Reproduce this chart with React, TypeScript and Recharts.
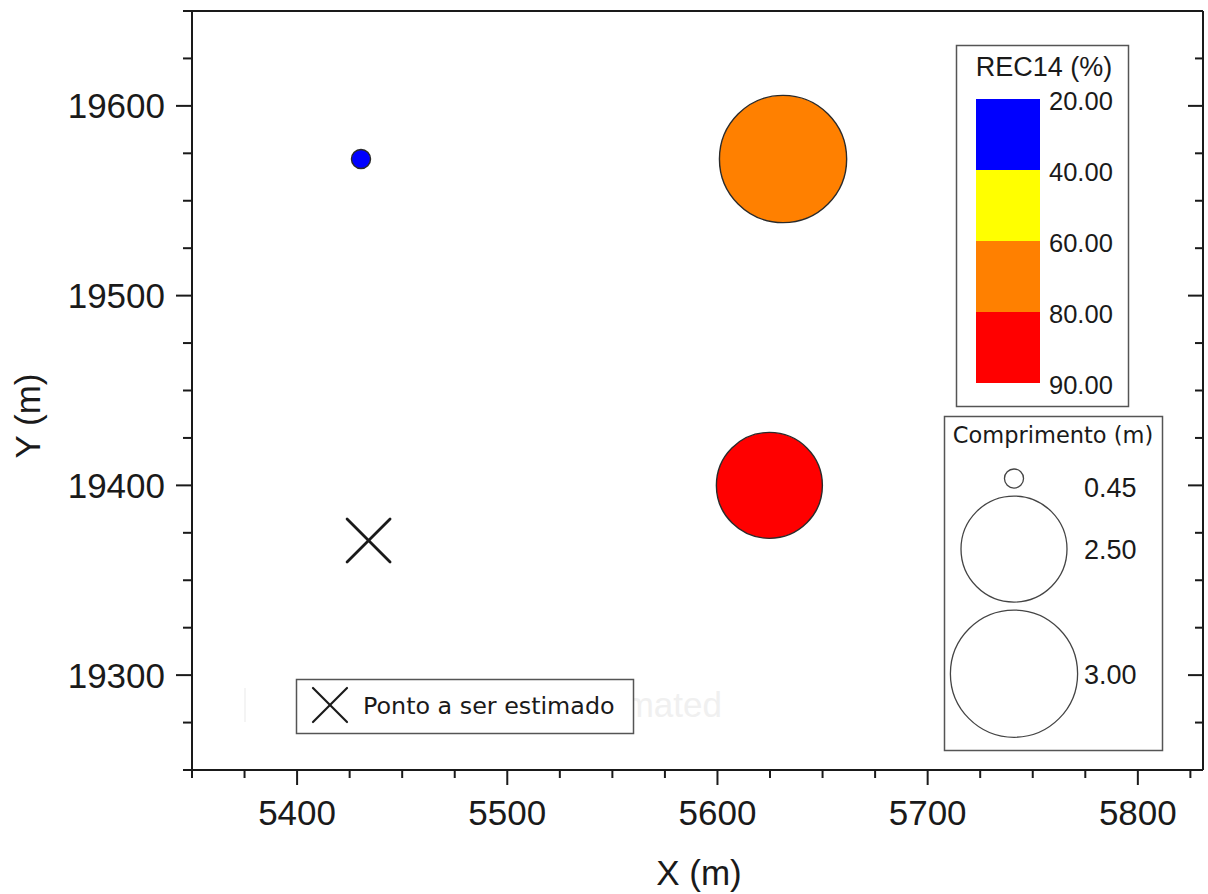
import React from "react";
import { ScatterChart, Scatter, XAxis, YAxis } from "recharts";

// sample positions (m), drilled length (m) and recovery REC14 (%)
const SAMPLE_X = [5430.4, 5631.2, 5624.7];
const SAMPLE_Y = [19572, 19572, 19400];
const SAMPLE_LEN = [0.45, 3.0, 2.5];
const SAMPLE_REC = [30, 70, 85];

// point to be estimated
const TARGET_X = [5434];
const TARGET_Y = [19371];

// REC14 classes and size key
const REC_BREAKS = [20, 40, 60, 80, 90];
const REC_COLORS = ["#0000ff", "#ffff00", "#ff8000", "#ff0000"];
const LEN_KEYS = [0.45, 2.5, 3.0];

const X_DOMAIN = [5350, 5831];
const Y_DOMAIN = [19250, 19650];
const X_MAJOR = [5400, 5500, 5600, 5700, 5800];
const Y_MAJOR = [19300, 19400, 19500, 19600];
const X_TICKS = [
  5350, 5375, 5400, 5425, 5450, 5475, 5500, 5525, 5550, 5575,
  5600, 5625, 5650, 5675, 5700, 5725, 5750, 5775, 5800, 5825,
];
const Y_TICKS = [
  19250, 19275, 19300, 19325, 19350, 19375, 19400, 19425, 19450,
  19475, 19500, 19525, 19550, 19575, 19600, 19625, 19650,
];

const W = 1208;
const H = 894;
const INK = "#1a1a1a";
const ARIAL = "'Liberation Sans', Arial, sans-serif";
const VERDANA = "'DejaVu Sans', Verdana, sans-serif";
const R_PER_M = 21.2; // bubble radius in px per metre of length
const MAJOR_LEN = 15;
const MINOR_LEN = 8;

const samples = SAMPLE_X.map((x, i) => ({ x, y: SAMPLE_Y[i], len: SAMPLE_LEN[i], rec: SAMPLE_REC[i] }));
const targets = TARGET_X.map((x, i) => ({ x, y: TARGET_Y[i] }));

function recColor(v: number) {
  for (let i = 0; i < REC_COLORS.length; i++) {
    if (v >= REC_BREAKS[i] && v < REC_BREAKS[i + 1]) return REC_COLORS[i];
  }
  return REC_COLORS[REC_COLORS.length - 1];
}

const tickText = { fontFamily: ARIAL, fontSize: 35, fill: INK };

const BottomTick = (p: any) => {
  const { x, y, payload } = p;
  const major = X_MAJOR.includes(payload.value);
  return (
    <g>
      <line x1={x} x2={x} y1={y} y2={y + (major ? MAJOR_LEN : MINOR_LEN)} stroke={INK} strokeWidth={2} />
      {major && (
        <text x={x} y={y + 55} textAnchor="middle" style={tickText}>
          {payload.value}
        </text>
      )}
    </g>
  );
};

const LeftTick = (p: any) => {
  const { x, y, payload } = p;
  const major = Y_MAJOR.includes(payload.value);
  return (
    <g>
      <line x1={x - (major ? MAJOR_LEN + 1 : MINOR_LEN + 1)} x2={x} y1={y} y2={y} stroke={INK} strokeWidth={2} />
      {major && (
        <text x={x - 27} y={y + 12.5} textAnchor="end" style={tickText}>
          {payload.value}
        </text>
      )}
    </g>
  );
};

// inward ticks on the top and right frame
const TopTick = (p: any) => {
  const { x, y, payload } = p;
  const major = X_MAJOR.includes(payload.value);
  return <line x1={x} x2={x} y1={y} y2={y + (major ? MAJOR_LEN : MINOR_LEN)} stroke={INK} strokeWidth={2} />;
};

const RightTick = (p: any) => {
  const { x, y, payload } = p;
  const major = Y_MAJOR.includes(payload.value);
  return <line x1={x - (major ? MAJOR_LEN : MINOR_LEN)} x2={x} y1={y} y2={y} stroke={INK} strokeWidth={2} />;
};

const Bubble = (p: any) => {
  const { cx, cy, payload } = p;
  return (
    <circle cx={cx} cy={cy} r={payload.len * R_PER_M} fill={recColor(payload.rec)} stroke="#2a2a2a" strokeWidth={1.4} />
  );
};

const Cross = ({ cx, cy, half = 21.5, width = 2.8 }: any) => (
  <g stroke={INK} strokeWidth={width} strokeLinecap="round">
    <line x1={cx - half} y1={cy - half} x2={cx + half} y2={cy + half} />
    <line x1={cx - half} y1={cy + half} x2={cx + half} y2={cy - half} />
  </g>
);

function Legends() {
  // colour scale box
  const barX = 976;
  const barY = 99;
  const bandH = 71;
  // size key: circles stacked with an 8px gap
  let top = 469;
  const sizeRows = LEN_KEYS.map((v) => {
    const r = v * R_PER_M;
    const cy = top + r;
    const labelY = Math.max(cy, top + 18);
    top = cy + r + 8;
    return { v, r, cy, labelY };
  });

  return (
    <svg width={W} height={H} style={{ position: "absolute", left: 0, top: 0, pointerEvents: "none" }}>
      {/* axis titles */}
      <text x={699} y={885} textAnchor="middle" style={tickText}>X (m)</text>
      <text transform="translate(40 416) rotate(-90)" textAnchor="middle" style={tickText}>
        Y (m)
      </text>

      {/* faded caption peeking out from behind the marker key */}
      <line x1={245} x2={245} y1={688} y2={722} stroke="#f0f0f0" strokeWidth={1.5} />
      <text x={722} y={717} textAnchor="end" style={{ fontFamily: ARIAL, fontSize: 35, fill: "#f0f0f0" }}>
        mated
      </text>

      {/* marker key */}
      <rect x={296.5} y={679.5} width={337} height={54} fill="#fff" stroke="#555" strokeWidth={1.5} />
      <Cross cx={330} cy={705} half={17} width={2.2} />
      <text x={363} y={714} style={{ fontFamily: VERDANA, fontSize: 23.8, fill: INK }}>
        Ponto a ser estimado
      </text>

      {/* REC14 colour key */}
      <rect x={956.5} y={45.5} width={172} height={361} fill="#fff" stroke="#555" strokeWidth={1.5} />
      <text x={1044} y={76} textAnchor="middle" style={{ fontFamily: ARIAL, fontSize: 27, fill: INK }}>
        REC14 (%)
      </text>
      {REC_COLORS.map((c, i) => (
        <rect key={c} x={barX} y={barY + i * bandH} width={64} height={bandH} fill={c} />
      ))}
      {REC_BREAKS.map((b, i) => (
        <text key={b} x={1049} y={barY + i * bandH + 11} style={{ fontFamily: ARIAL, fontSize: 25.5, fill: INK }}>
          {b.toFixed(2)}
        </text>
      ))}

      {/* length key */}
      <rect x={944.5} y={416.5} width={218} height={334} fill="#fff" stroke="#555" strokeWidth={1.5} />
      <text x={1053} y={443} textAnchor="middle" style={{ fontFamily: VERDANA, fontSize: 22.5, fill: INK }}>
        Comprimento (m)
      </text>
      {sizeRows.map((s) => (
        <g key={s.v}>
          <circle cx={1014} cy={s.cy} r={s.r} fill="#fff" stroke="#444" strokeWidth={1.3} />
          <text x={1084} y={s.labelY + 10} style={{ fontFamily: ARIAL, fontSize: 27, fill: INK }}>
            {s.v.toFixed(2)}
          </text>
        </g>
      ))}
    </svg>
  );
}

export default function App() {
  const axisLine = { stroke: INK, strokeWidth: 2 };
  return (
    <div style={{ position: "absolute", left: 0, top: 0, width: W, height: H, background: "#fff" }}>
      <ScatterChart width={W} height={H} margin={{ top: 10, right: 4, bottom: 24, left: 42 }}>
        <XAxis
          xAxisId={0}
          type="number"
          dataKey="x"
          domain={X_DOMAIN}
          ticks={X_TICKS}
          interval={0}
          height={100}
          tickSize={0}
          tickMargin={0}
          tickLine={false}
          tick={<BottomTick />}
          axisLine={axisLine}
          allowDataOverflow
        />
        <XAxis
          xAxisId="top"
          orientation="top"
          type="number"
          domain={X_DOMAIN}
          ticks={X_TICKS}
          interval={0}
          height={1}
          tickSize={0}
          tickMargin={0}
          tickLine={false}
          tick={<TopTick />}
          axisLine={axisLine}
          allowDataOverflow
        />
        <YAxis
          yAxisId={0}
          type="number"
          dataKey="y"
          domain={Y_DOMAIN}
          ticks={Y_TICKS}
          interval={0}
          width={150}
          tickSize={0}
          tickMargin={0}
          tickLine={false}
          tick={<LeftTick />}
          axisLine={axisLine}
          allowDataOverflow
        />
        <YAxis
          yAxisId="right"
          orientation="right"
          type="number"
          domain={Y_DOMAIN}
          ticks={Y_TICKS}
          interval={0}
          width={1}
          tickSize={0}
          tickMargin={0}
          tickLine={false}
          tick={<RightTick />}
          axisLine={axisLine}
          allowDataOverflow
        />
        <Scatter data={samples} shape={<Bubble />} isAnimationActive={false} />
        <Scatter data={targets} shape={(p: any) => <Cross cx={p.cx} cy={p.cy} />} isAnimationActive={false} />
      </ScatterChart>
      <Legends />
    </div>
  );
}
